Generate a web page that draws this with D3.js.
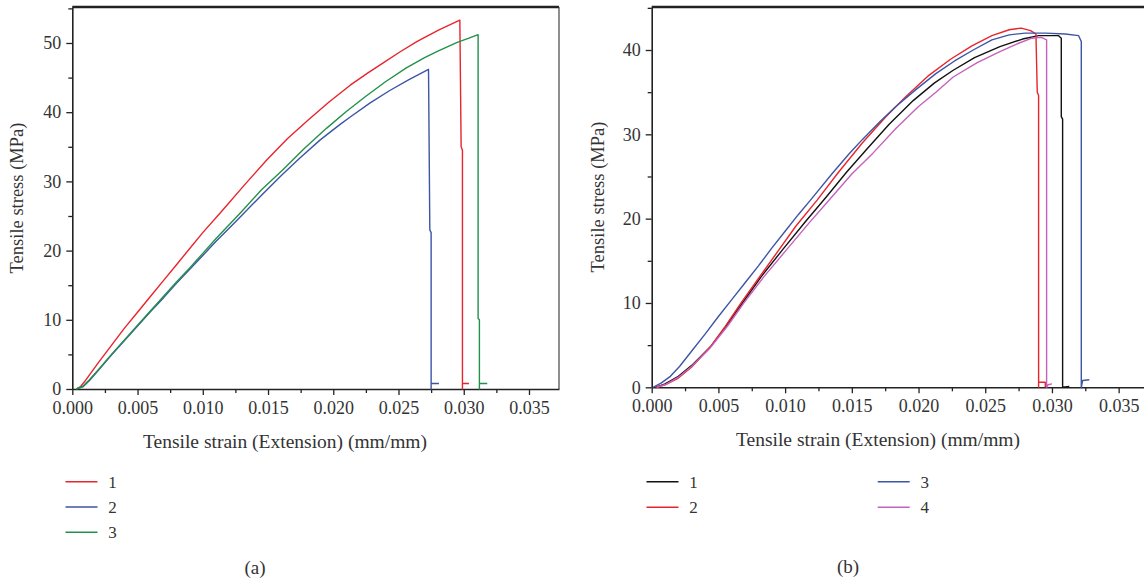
<!DOCTYPE html>
<html>
<head>
<meta charset="utf-8">
<script src="https://cdn.jsdelivr.net/npm/d3@7"></script>
<style>
  body { margin: 0; background: #fff; }
  svg { display: block; }
</style>
</head>
<body>
<svg id="chart" width="1144" height="582"></svg>
<script>
// panel (a) curves, [strain, stress]
const a1 = [[0.0003,0],[0.0006,0.3],[0.001,1.2],[0.0015,2.5],[0.002,3.8],[0.003,6.3],[0.004,8.8],[0.005,11.1],[0.006,13.4],[0.007,15.7],[0.008,18.0],[0.009,20.3],[0.010,22.6],[0.0115,25.8],[0.0132,29.5],[0.0149,33.1],[0.0165,36.2],[0.0181,38.9],[0.0197,41.5],[0.0213,43.9],[0.0226,45.6],[0.0238,47.1],[0.0251,48.7],[0.0264,50.2],[0.0281,51.9],[0.0297,53.3],[0.0298,35.0],[0.0299,34.5],[0.0299,0],[0.0299,0.8],[0.0304,0.8]];
const a2 = [[0.0003,0],[0.0008,0.3],[0.0013,1.2],[0.002,2.7],[0.003,4.9],[0.004,7.0],[0.005,9.1],[0.006,11.2],[0.007,13.2],[0.008,15.3],[0.009,17.3],[0.010,19.3],[0.011,21.3],[0.012,23.2],[0.013,25.1],[0.0145,28.0],[0.016,30.8],[0.0174,33.3],[0.019,36.0],[0.0205,38.2],[0.0213,39.3],[0.0228,41.3],[0.0243,43.1],[0.0258,44.7],[0.0273,46.2],[0.0274,23.0],[0.0275,22.6],[0.0275,0],[0.0275,0.8],[0.0281,0.8]];
const a3 = [[0.0003,0],[0.0008,0.4],[0.0013,1.3],[0.002,2.8],[0.003,5.0],[0.004,7.1],[0.005,9.2],[0.006,11.3],[0.007,13.4],[0.008,15.5],[0.009,17.5],[0.010,19.6],[0.011,21.7],[0.012,23.7],[0.013,25.7],[0.0145,28.8],[0.0161,31.6],[0.0178,34.8],[0.0195,37.7],[0.021,40.1],[0.0225,42.3],[0.024,44.4],[0.0256,46.4],[0.027,47.9],[0.0281,48.9],[0.0295,50.1],[0.0304,50.7],[0.0311,51.2],[0.0311,10.2],[0.0312,10.0],[0.0312,0],[0.0312,0.8],[0.0318,0.8]];

// panel (b) curves
const b1 = [[0.0003,0],[0.001,0.4],[0.002,1.3],[0.003,2.6],[0.0044,4.8],[0.0056,7.3],[0.0068,10.0],[0.0082,13.1],[0.0098,16.3],[0.0115,19.6],[0.0131,22.6],[0.0146,25.5],[0.0161,28.2],[0.0178,31.2],[0.0196,34.0],[0.0212,36.1],[0.0226,37.6],[0.0242,39.1],[0.0261,40.4],[0.0278,41.3],[0.029,41.7],[0.0305,41.7],[0.0307,41.4],[0.0307,32.1],[0.0308,31.8],[0.0308,0],[0.0313,0.1]];
const b2 = [[0.0003,0],[0.001,0.3],[0.002,1.1],[0.003,2.4],[0.0044,4.8],[0.0055,7.2],[0.0067,10.0],[0.008,12.9],[0.0094,16.0],[0.0108,19.1],[0.0124,22.2],[0.014,25.5],[0.0158,29.0],[0.0175,32.0],[0.019,34.4],[0.0207,36.9],[0.0224,38.9],[0.024,40.5],[0.0255,41.7],[0.0268,42.4],[0.0277,42.6],[0.0284,42.3],[0.0288,41.9],[0.0289,35.0],[0.029,34.6],[0.029,0],[0.029,0.6],[0.0295,0.6],[0.0295,0]];
const b3 = [[0.0001,0],[0.0007,0.5],[0.0014,1.3],[0.0021,2.5],[0.003,4.3],[0.004,6.3],[0.005,8.4],[0.006,10.4],[0.007,12.4],[0.008,14.4],[0.009,16.5],[0.010,18.5],[0.011,20.5],[0.0119,22.2],[0.0135,25.3],[0.0148,27.7],[0.0158,29.4],[0.0171,31.5],[0.0183,33.3],[0.0198,35.3],[0.0213,37.2],[0.0227,38.7],[0.0241,40.0],[0.0255,41.2],[0.0268,41.8],[0.028,42.0],[0.0295,42.0],[0.031,41.9],[0.032,41.7],[0.0322,41.0],[0.0322,0],[0.0323,0.8],[0.0328,0.9]];
const b4 = [[0.0004,0],[0.001,0.3],[0.002,1.2],[0.003,2.5],[0.0044,4.7],[0.0057,7.3],[0.0069,10.0],[0.0084,13.1],[0.0101,16.3],[0.0118,19.5],[0.0134,22.4],[0.015,25.3],[0.0166,27.8],[0.0183,30.7],[0.02,33.3],[0.0213,35.0],[0.0226,36.8],[0.0244,38.5],[0.0261,39.8],[0.0275,40.8],[0.0285,41.4],[0.0292,41.5],[0.0296,41.2],[0.0296,0],[0.0297,0.3],[0.03,0.4]];

const xTicks = [0, 0.005, 0.01, 0.015, 0.02, 0.025, 0.03, 0.035];
const yTicksA = [0, 10, 20, 30, 40, 50];
const yTicksB = [0, 10, 20, 30, 40];
const namesA = ["1", "2", "3"], namesB = ["1", "2", "3", "4"];
const colorsA = ["#e8242c", "#3c55a5", "#22914a"];
const colorsB = ["#111111", "#e8242c", "#3c55a5", "#c462bd"];

const serif = '"Liberation Serif", "DejaVu Serif", serif';
const svg = d3.select("#chart");

function drawPanel(o) {
  const x = d3.scaleLinear().domain(o.xDomain).range(o.xRange);
  const y = d3.scaleLinear().domain(o.yDomain).range(o.yRange);
  const g = svg.append("g");

  // minor ticks first
  const xMinor = d3.range(0.0025, o.xDomain[1], 0.005);
  const yMinor = d3.range(5, o.yDomain[1], 10);
  g.append("g").attr("transform", `translate(0,${o.yRange[0]})`)
    .call(d3.axisBottom(x).tickValues(xMinor).tickSize(4).tickFormat("").tickSizeOuter(0))
    .call(a => a.select(".domain").remove());
  g.append("g").attr("transform", `translate(${o.xRange[0]},0)`)
    .call(d3.axisLeft(y).tickValues(yMinor).tickSize(4).tickFormat("").tickSizeOuter(0))
    .call(a => a.select(".domain").remove());

  const xa = g.append("g").attr("transform", `translate(0,${o.yRange[0]})`)
    .call(d3.axisBottom(x).tickValues(xTicks).tickSize(6).tickSizeOuter(0).tickPadding(6).tickFormat(d3.format(".3f")));
  const ya = g.append("g").attr("transform", `translate(${o.xRange[0]},0)`)
    .call(d3.axisLeft(y).tickValues(o.yTicks).tickSize(6).tickSizeOuter(0).tickPadding(5));
  [xa, ya].forEach(a => {
    a.attr("font-size", 18).attr("font-family", serif);
    a.selectAll("text").attr("fill", "#333");
    a.select(".domain").attr("stroke", "#222").attr("stroke-width", 1.6);
  });
  g.selectAll(".tick line").attr("stroke", "#222").attr("stroke-width", 1.3);

  // frame: top and right
  g.append("line").attr("x1", o.xRange[0]).attr("x2", o.xRange[1]).attr("y1", o.yRange[1]).attr("y2", o.yRange[1])
    .attr("stroke", "#222").attr("stroke-width", 2.4);
  if (o.rightBorder) {
    g.append("line").attr("x1", o.xRange[1]).attr("x2", o.xRange[1]).attr("y1", o.yRange[1]).attr("y2", o.yRange[0])
      .attr("stroke", "#444").attr("stroke-width", 1.2);
  }

  const line = d3.line().x(d => x(d[0])).y(d => y(d[1]));
  o.series.forEach((s, i) => {
    g.append("path").datum(s).attr("d", line).attr("fill", "none")
      .attr("stroke", o.colors[i]).attr("stroke-width", 1.4).attr("stroke-linejoin", "round");
  });

  g.append("text").attr("x", o.xTitle[0]).attr("y", o.xTitle[1]).attr("text-anchor", "middle")
    .attr("font-family", serif).attr("font-size", 19.5).attr("fill", "#333")
    .text("Tensile strain (Extension) (mm/mm)");
  g.append("text").attr("transform", `translate(${o.yTitle[0]},${o.yTitle[1]}) rotate(-90)`).attr("text-anchor", "middle")
    .attr("font-family", serif).attr("font-size", 18.5).attr("fill", "#333")
    .text("Tensile stress (MPa)");

  // legend
  o.names.forEach((n, i) => {
    const col = Math.floor(i / o.legRows), row = i % o.legRows;
    const lx = o.leg[0] + col * o.legColGap, ly = o.leg[1] + row * o.legRowGap;
    g.append("line").attr("x1", lx).attr("x2", lx + 32).attr("y1", ly).attr("y2", ly)
      .attr("stroke", o.colors[i]).attr("stroke-width", 1.4);
    g.append("text").attr("x", lx + 47).attr("y", ly + 6).attr("text-anchor", "middle")
      .attr("font-family", serif).attr("font-size", 17).attr("fill", "#333").text(n);
  });

  g.append("text").attr("x", o.caption[0]).attr("y", o.caption[1]).attr("text-anchor", "middle")
    .attr("font-family", serif).attr("font-size", 19).attr("fill", "#333").text(o.label);
}

drawPanel({
  series: [a1, a2, a3], colors: colorsA, names: namesA, yTicks: yTicksA,
  xDomain: [0, 0.0373], xRange: [72.3, 559], yDomain: [0, 55.2], yRange: [389, 7], rightBorder: true,
  xTitle: [285, 448], yTitle: [23, 198], leg: [65.5, 481.7], legRows: 3, legRowGap: 25.3, legColGap: 0,
  caption: [255, 574], label: "(a)"
});

drawPanel({
  series: [b1, b2, b3, b4], colors: colorsB, names: namesB, yTicks: yTicksB,
  xDomain: [0, 0.0372], xRange: [651.7, 1148], yDomain: [0, 45.1], yRange: [387.3, 7], rightBorder: false,
  xTitle: [878, 446], yTitle: [604, 197], leg: [646.5, 481.7], legRows: 2, legRowGap: 25.6, legColGap: 231.2,
  caption: [848, 573], label: "(b)"
});
</script>
</body>
</html>
